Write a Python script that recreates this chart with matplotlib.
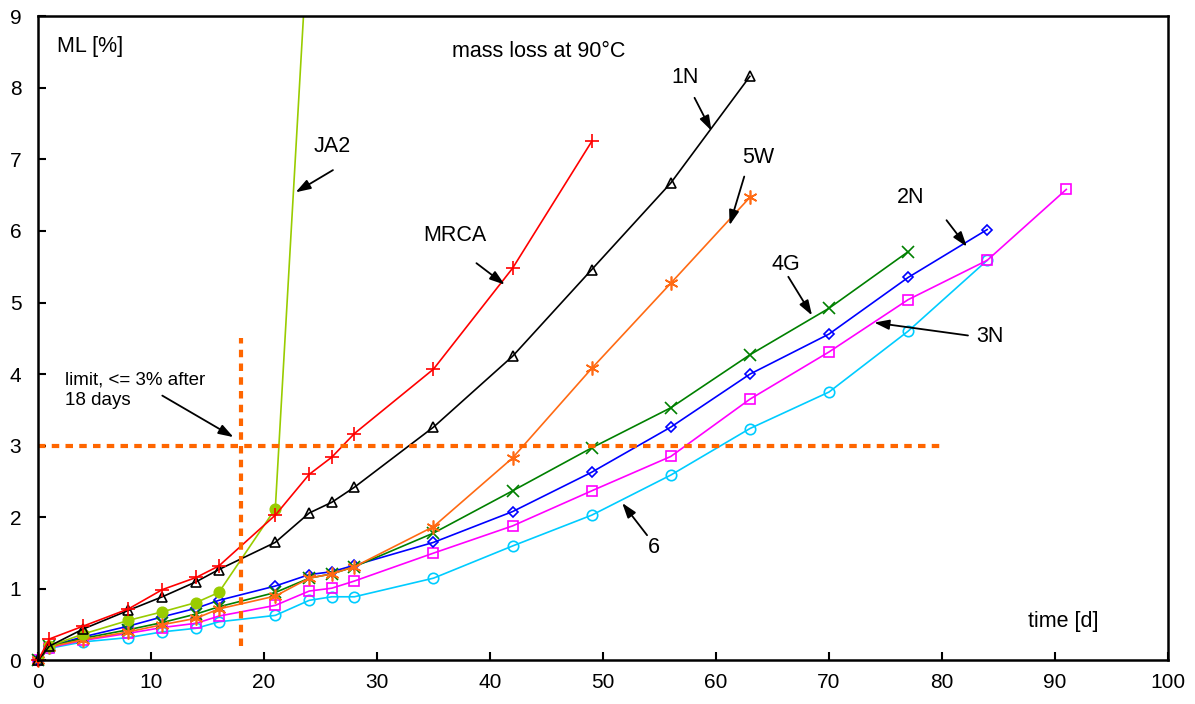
import matplotlib.pyplot as plt

plt.rcParams["font.family"] = ["Liberation Sans", "DejaVu Sans"]

# storage time in days
days = [0, 1, 4, 8, 11, 14, 16, 21, 24, 26, 28, 35, 42, 49, 56, 63, 70, 77, 84, 91]

# mass loss in % for each propellant
ml_6 = [0, 0.17, 0.26, 0.32, 0.40, 0.45, 0.54, 0.63, 0.84, 0.89, 0.89, 1.15, 1.60,
        2.03, 2.59, 3.24, 3.75, 4.60, 5.59]
ml_3n = [0, 0.18, 0.28, 0.38, 0.46, 0.52, 0.62, 0.77, 0.97, 1.01, 1.11, 1.50, 1.88,
         2.37, 2.85, 3.65, 4.31, 5.04, 5.59, 6.58]
ml_2n = [0, 0.20, 0.33, 0.48, 0.61, 0.73, 0.84, 1.04, 1.20, 1.24, 1.33, 1.65, 2.08,
         2.63, 3.26, 4.00, 4.56, 5.35, 6.02]
ml_4g = [0, 0.20, 0.31, 0.43, 0.53, 0.65, 0.75, 0.95, 1.15, 1.21, 1.31, 1.78, 2.37,
         2.97, 3.53, 4.27, 4.92, 5.71]
ml_5w = [0, 0.19, 0.29, 0.40, 0.50, 0.59, 0.72, 0.90, 1.15, 1.21, 1.31, 1.87, 2.83,
         4.08, 5.27, 6.47]
ml_ja2 = [0, 0.20, 0.37, 0.56, 0.68, 0.81, 0.95, 2.12, 10.4]
ml_1n = [0, 0.20, 0.44, 0.70, 0.89, 1.10, 1.27, 1.65, 2.06, 2.21, 2.42, 3.26, 4.25,
         5.46, 6.67, 8.16]
ml_mrca = [0, 0.30, 0.48, 0.72, 0.99, 1.16, 1.32, 2.03, 2.60, 2.84, 3.17, 4.07, 5.48,
           7.25]

# acceptance limit: <= 3 % after 18 days
limit_ml = 3
limit_days = 18

fig = plt.figure(figsize=(11.95, 7.04), dpi=100)
ax = fig.add_axes([0.0318, 0.0618, 0.9456, 0.9152])

# (values, colour, marker, marker size, filled, clip)
series = [
    (ml_6, "#00CCFF", "o", 7.5, False, False),
    (ml_3n, "#FF00FF", "s", 6.5, False, False),
    (ml_2n, "#0000FF", "D", 5, False, False),
    (ml_4g, "#008000", "x", 8, False, False),
    (ml_5w, "#FF6A13", (6, 2, 0), 10, False, False),
    (ml_ja2, "#99CC00", "o", 7.5, True, True),
    (ml_1n, "black", "^", 6.5, False, False),
    (ml_mrca, "#FF0000", "+", 10, False, False),
]
for values, color, marker, ms, filled, clip in series:
    ax.plot(days[:len(values)], values, color=color, lw=1.2, marker=marker, ms=ms,
            mfc=color if filled else "none", mec=color, mew=1.2, clip_on=clip)

# limit lines
limit_style = dict(color="#FF6600", lw=3, dashes=(1.8, 1.5), dash_capstyle="butt")
ax.plot([0, 80], [limit_ml, limit_ml], **limit_style)
ax.plot([limit_days, limit_days], [0.2, 4.5], **limit_style)

ax.set_xlim(0, 100)
ax.set_ylim(0, 9)
ax.set_xticks(range(0, 101, 10))
ax.set_yticks(range(0, 10))
ax.tick_params(direction="in", length=6, width=1.5, labelsize=15, pad=9)
ax.tick_params(axis="y", pad=12)
for sp in ax.spines.values():
    sp.set_linewidth(1.8)

ax.text(1.7, 8.57, "ML [%]", fontsize=15.5, va="center")
ax.text(36.6, 8.51, "mass loss at 90°C", fontsize=15.5, va="center")
ax.text(90.7, 0.54, "time [d]", fontsize=15.5, va="center", ha="center")
ax.text(2.4, 3.78, "limit, <= 3% after\n18 days", fontsize=13.5, va="center",
        linespacing=1.25)

# curve labels with arrows: text, text position, arrow tail, arrow head
labels = [
    ("1N", (57.3, 8.14), (58.1, 7.86), (59.6, 7.40)),
    ("5W", (63.7, 7.03), (62.5, 6.76), (61.2, 6.08)),
    ("MRCA", (36.9, 5.94), (38.8, 5.55), (41.3, 5.25)),
    ("JA2", (26.0, 7.18), (26.1, 6.85), (22.8, 6.54)),
    ("2N", (77.2, 6.47), (80.4, 6.15), (82.2, 5.78)),
    ("4G", (66.2, 5.53), (66.4, 5.36), (68.5, 4.82)),
    ("3N", (84.2, 4.52), (82.3, 4.54), (74.0, 4.72)),
    ("6", (54.5, 1.58), (53.9, 1.75), (51.7, 2.20)),
    ("", None, (11.0, 3.70), (17.3, 3.12)),
]
for name, pos, tail, head in labels:
    if name:
        ax.text(pos[0], pos[1], name, fontsize=15.5, ha="center", va="center")
    ax.annotate("", xy=head, xytext=tail,
                arrowprops=dict(arrowstyle="-|>,head_length=0.9,head_width=0.3",
                                color="black", lw=1.3, shrinkA=0, shrinkB=0))

fig.savefig("out.png", dpi=100)
